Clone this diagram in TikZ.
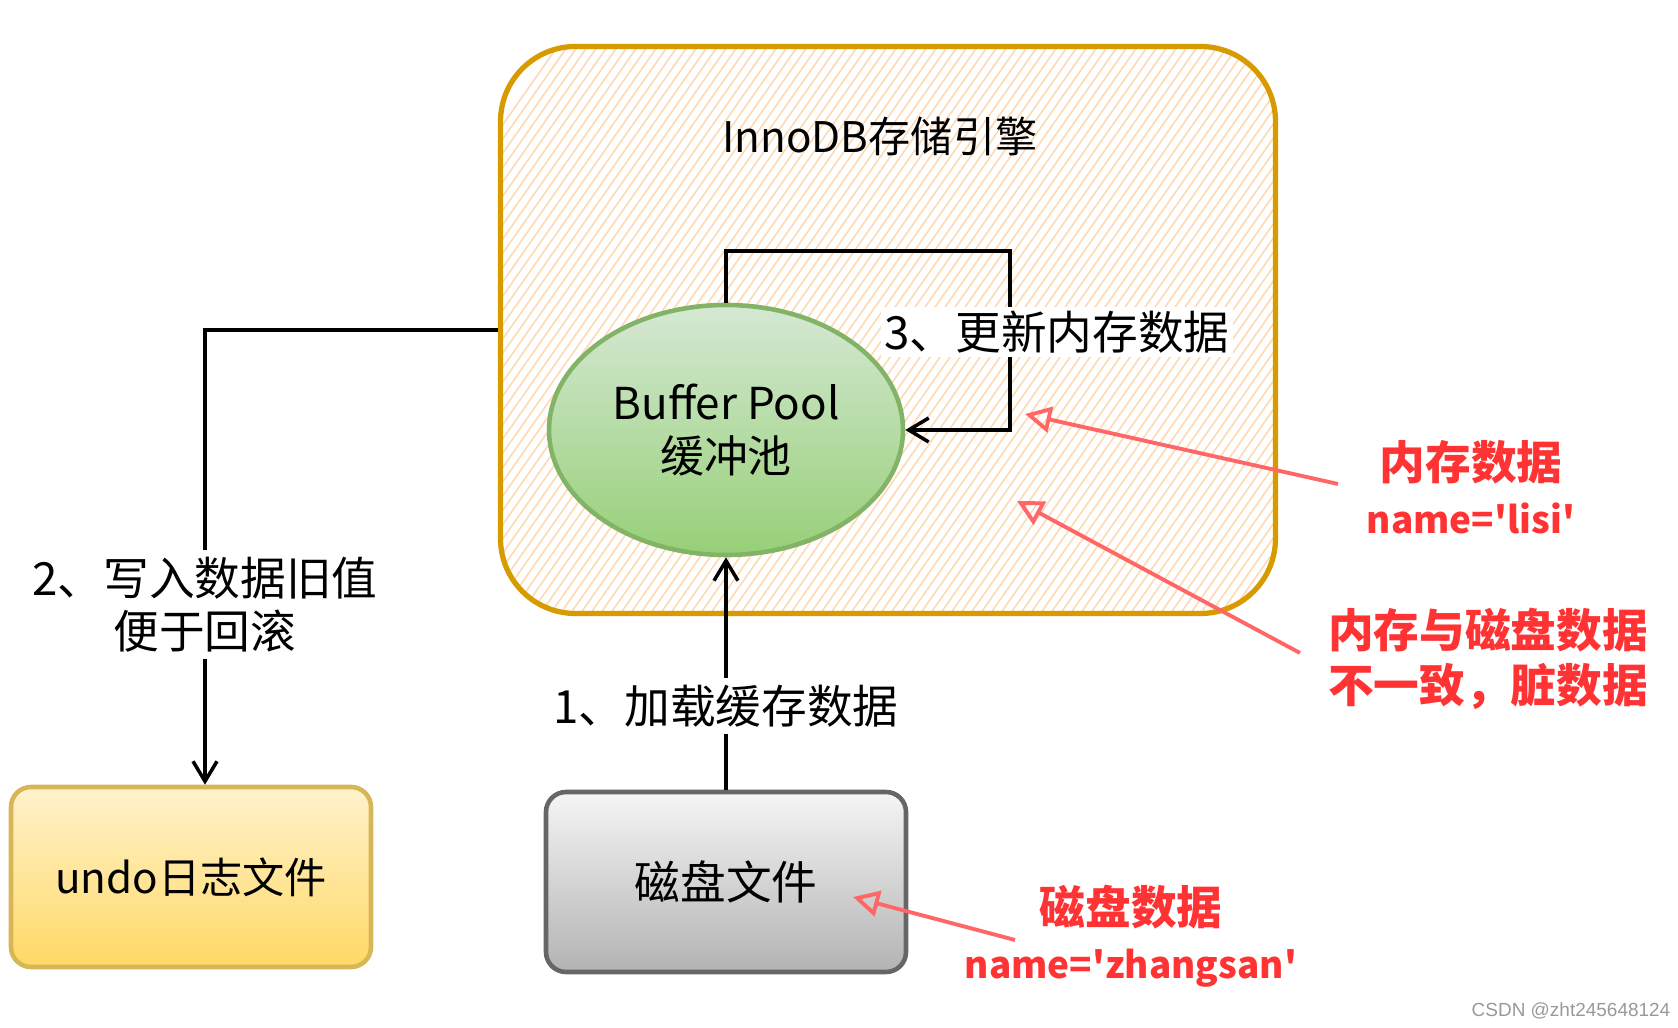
\documentclass[tikz,border=0pt]{standalone}
\usepackage{fontspec}
\setmainfont{Noto Sans CJK SC}
\newfontfamily\markfont{Liberation Sans}
\usetikzlibrary{arrows.meta, shapes.geometric, math}
\definecolor{enginegold}{HTML}{D79B00}
\definecolor{hatchorange}{HTML}{FFD9B3}
\definecolor{poolgreen}{HTML}{82B366}
\definecolor{disksgray}{HTML}{666666}
\definecolor{undoyellow}{HTML}{D6B656}
\definecolor{notered}{HTML}{FF6666}
\definecolor{textred}{HTML}{FF3333}
\newcommand{\qmark}{\textquotesingle}
\newcommand{\namefont}{\fontsize{10.5}{15.5}\selectfont}

\begin{document}
\begin{tikzpicture}[x=0.1mm, y=-0.1mm,
    txt/.style={font=\fontsize{13}{15}\selectfont, align=center},
    redtxt/.style={text=textred, font=\fontsize{13}{15.5}\selectfont\bfseries, align=center},
    conn/.style={line width=1pt, -{Straight Barb[length=2mm, width=2.4mm]}},
    note/.style={draw=notered, line width=1.1pt, -{Triangle[open, length=2.6mm, width=2.6mm]}},
    filebox/.style={line width=1.3pt, rounded corners=2mm, minimum width=36mm, minimum height=18mm}]
      \tikzmath{\hs = -340; \hn = \hs + 10; \he = 780;}
      \useasboundingbox (0,0) rectangle (1678,1028);
      \node[draw=enginegold, line width=1.5pt, rounded corners=7.5mm, minimum width=77.5mm, minimum height=56.7mm,
        path picture={\foreach \i in {\hs,\hn,...,\he}
          \draw[hatchorange, line width=0.45pt] ([xshift=\i*0.1mm]path picture bounding box.south west) -- ++(55:8cm);}] (engine) at (888,330) {};
      \node[txt, font=\fontsize{12}{14}\selectfont] (title) at (880,136) {InnoDB存储引擎};
      \node[ellipse, draw=poolgreen, line width=1.3pt, top color={rgb,255:red,213;green,232;blue,212}, bottom color={rgb,255:red,151;green,208;blue,119},
        minimum width=35.2mm, minimum height=25mm, txt, font=\fontsize{12.5}{15}\selectfont] (pool) at (726,430) {Buffer Pool\\缓冲池};
      \node[filebox, draw=disksgray, top color={rgb,255:red,245;green,245;blue,245}, bottom color={rgb,255:red,179;green,179;blue,179}, txt] (disk) at (726,882) {磁盘文件};
      \node[filebox, draw=undoyellow, top color={rgb,255:red,255;green,242;blue,204}, bottom color={rgb,255:red,255;green,217;blue,102}, txt, font=\fontsize{12}{14}\selectfont] (undo) at (191,877) {undo日志文件};
      \coordinate (loopc) at (1010,251);
      \draw[conn] (disk.north) -- node[txt, fill=white, inner sep=2pt, pos=0.36] (step1) {1、加载缓存数据} (pool.south);
      \draw[conn] (engine.west) -| ([xshift=1.4mm]undo.north);
      \node[txt, fill=white, inner sep=2pt] (step2) at (205,605) {2、写入数据旧值\\便于回滚};
      \draw[conn] (pool.north) |- (loopc) |- (pool.east);
      \node[txt, fill=white, inner sep=1pt] (step3) at (1057,332) {3、更新内存数据};
      \node[redtxt] (memnote) at (1471,487) {内存数据\\{\namefont name=\qmark lisi\qmark}};
      \node[redtxt] (dirtynote) at (1488,659) {内存与磁盘数据\\不一致，脏数据};
      \node[redtxt] (disknote) at (1131,936) {磁盘数据\\{\namefont name=\qmark zhangsan\qmark}};
      \coordinate (memtip) at (1025,414);
      \coordinate (dirtytip) at (1017,501);
      \coordinate (disktip) at (853,897);
      \draw[note] ([shift={(-133,-3)}]memnote.center) -- (memtip);
      \draw[note] ([shift={(-188,-6)}]dirtynote.center) -- (dirtytip);
      \draw[note] ([shift={(-116,4)}]disknote.center) -- (disktip);
      \node[text=gray!80, font=\markfont\fontsize{5.4}{6.5}\selectfont] (mark) at (1571,1011) {CSDN @zht245648124};
    \end{tikzpicture}
\end{document}
